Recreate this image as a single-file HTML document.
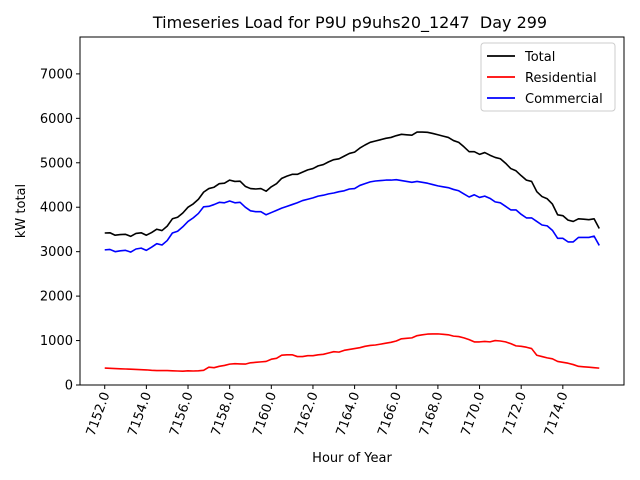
<!DOCTYPE html>
<html><head><meta charset="utf-8"><style>
body{margin:0;background:#fff;}
svg{display:block;font-family:"DejaVu Sans","Liberation Sans",sans-serif;}
</style></head><body>
<svg id="chart" width="640" height="480" viewBox="0 0 640 480">
<rect width="640" height="480" fill="#fff"/>
<text x="350" y="28" font-size="16" text-anchor="middle">Timeseries Load for P9U p9uhs20_1247&#160; Day 299</text>
<g id="plot"></g>
<text x="352" y="462" font-size="13" text-anchor="middle">Hour of Year</text>
<text transform="translate(25,211) rotate(-90)" font-size="13" text-anchor="middle">kW total</text>
<g>
<rect x="481" y="43" width="134" height="68" rx="3" fill="#fff" stroke="#ccc" fill-opacity="0.8"/>
<g><line x1="487" y1="56" x2="515" y2="56" stroke="#000" stroke-width="1.8"/><text x="525" y="61" font-size="13">Total</text></g>
<g><line x1="487" y1="77" x2="515" y2="77" stroke="#f00" stroke-width="1.8"/><text x="525" y="82" font-size="13">Residential</text></g>
<g><line x1="487" y1="98" x2="515" y2="98" stroke="#00f" stroke-width="1.8"/><text x="525" y="103" font-size="13">Commercial</text></g>
</g>
</svg>
<script>
const startHour = 7152;
const stepHours = 0.25;
const xTicks = [7152,7154,7156,7158,7160,7162,7164,7166,7168,7170,7172,7174];
const yTicks = [0,1000,2000,3000,4000,5000,6000,7000];
const commercial = [3040,3050,3000,3020,3030,2990,3060,3080,3030,3100,3180,3150,3250,3420,3460,3560,3680,3760,3860,4010,4020,4060,4110,4100,4140,4100,4110,4000,3920,3900,3900,3830,3880,3930,3980,4020,4060,4100,4150,4180,4210,4250,4270,4300,4320,4350,4370,4410,4420,4490,4530,4570,4590,4600,4610,4610,4620,4600,4580,4560,4580,4560,4540,4510,4480,4460,4440,4400,4370,4300,4230,4280,4220,4250,4200,4120,4100,4020,3940,3940,3840,3760,3760,3680,3600,3580,3480,3300,3300,3220,3220,3320,3320,3320,3350,3140];
const residential = [380,375,370,365,360,355,350,345,340,330,325,325,325,320,315,310,320,315,320,330,400,390,420,440,470,480,475,470,500,510,520,530,580,600,670,680,680,640,640,660,660,680,690,720,750,740,780,800,820,840,870,890,900,920,940,960,990,1040,1050,1060,1110,1130,1145,1150,1150,1140,1130,1100,1090,1060,1020,970,970,980,970,1000,990,970,930,880,870,850,820,670,640,610,590,530,510,490,460,420,410,400,390,380];
const total = [3420,3425,3370,3385,3390,3345,3410,3425,3370,3430,3505,3475,3575,3740,3775,3870,4000,4075,4180,4340,4420,4450,4530,4540,4610,4580,4585,4470,4420,4410,4420,4360,4460,4530,4650,4700,4740,4740,4790,4840,4870,4930,4960,5020,5070,5090,5150,5210,5240,5330,5400,5460,5490,5520,5550,5570,5610,5640,5630,5620,5690,5690,5685,5660,5630,5600,5570,5500,5460,5360,5250,5250,5190,5230,5170,5120,5090,4990,4870,4820,4710,4610,4580,4350,4240,4190,4070,3830,3810,3710,3680,3740,3730,3720,3740,3520];

const L=80,R=624,T=37,B=385;
const n=total.length;
const xMin=startHour-(n-1)*stepHours*0.05, xMax=startHour+(n-1)*stepHours*1.05;
const yMin=0, yMax=7830;
const xs=v=>L+(v-xMin)/(xMax-xMin)*(R-L);
const ys=v=>B-(v-yMin)/(yMax-yMin)*(B-T);
const NS="http://www.w3.org/2000/svg";
const g=document.getElementById('plot');
function mk(tag,attrs){const e=document.createElementNS(NS,tag);for(const k in attrs)e.setAttribute(k,attrs[k]);g.appendChild(e);return e;}

function series(arr,color,name){
  const d=arr.map((v,i)=>(i?'L':'M')+xs(startHour+i*stepHours).toFixed(2)+','+ys(v).toFixed(2)).join(' ');
  const p=mk('path',{d:d,fill:'none',stroke:color,'stroke-width':1.6,'stroke-linejoin':'round'});
  
  
}
series(total,'#000','total-line');
series(residential,'#f00','residential-line');
series(commercial,'#00f','commercial-line');

const frame=mk('rect',{x:L,y:T,width:R-L,height:B-T,fill:'none',stroke:'#000','stroke-width':1});



yTicks.forEach(v=>{
  const y=ys(v);
  const t=mk('line',{x1:L-4,x2:L,y1:y,y2:y,stroke:'#000'});
  
  
  const tx=mk('text',{x:L-7,y:y+4.5,'font-size':13,'text-anchor':'end'});
  tx.textContent=v;
  
  
});
xTicks.forEach(v=>{
  const x=xs(v);
  const t=mk('line',{x1:x,x2:x,y1:B,y2:B+4,stroke:'#000'});
  
  
  const tx=mk('text',{transform:'translate('+(x+5)+','+(B+9)+') rotate(-70)','font-size':13,'text-anchor':'end'});
  tx.textContent=v.toFixed(1);
  
  
});
</script>
</body></html>
